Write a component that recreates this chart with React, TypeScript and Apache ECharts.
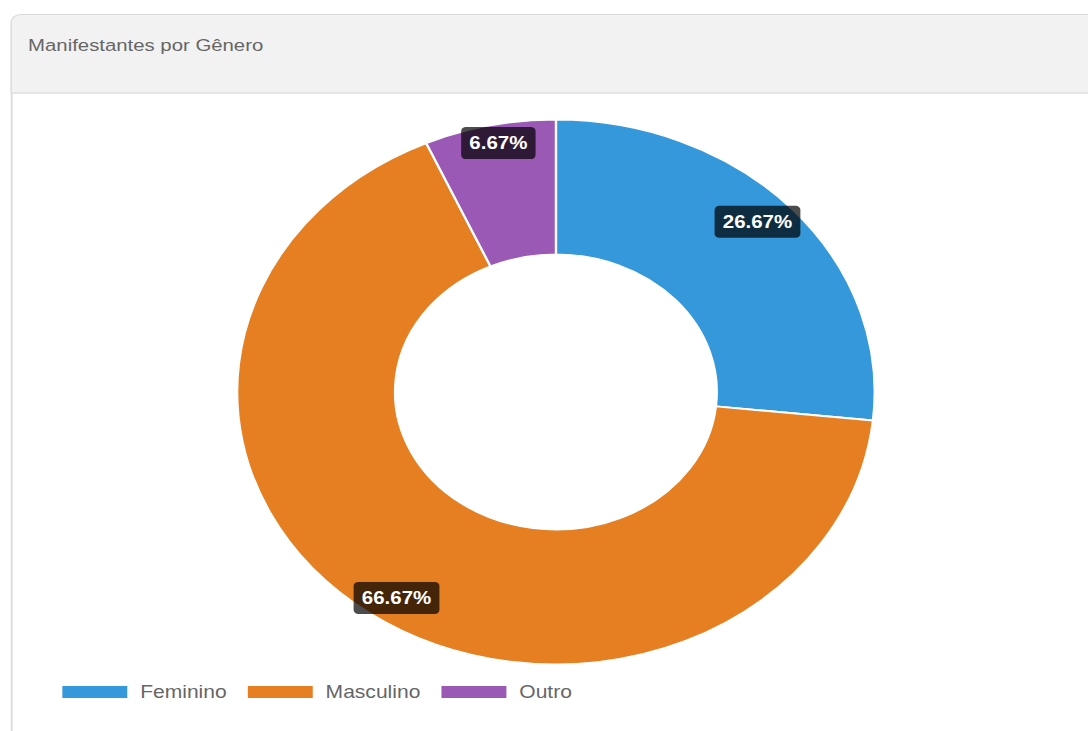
import React, { useEffect, useRef } from "react";
import * as echarts from "echarts";

const titleText = "Manifestantes por Gênero";
const categories = ["Feminino", "Masculino", "Outro"];
const values = [4, 10, 1];
const colors = ["#3498db", "#e67e22", "#9b59b6"];

const BASE_W = 930;
const H = 731;
const SX = 1088 / BASE_W;
const CX = 475.2;
const CY = 392;
const R_IN = 137.5;
const R_OUT = 272.5;

export default function App() {
  const ref = useRef<HTMLDivElement>(null);
  useEffect(() => {
    if (!ref.current) return;
    const chart = echarts.init(ref.current, null, { renderer: "svg" });
    const total = values.reduce((a, b) => a + b, 0);
    const data = categories.map((name, i) => ({
      name,
      value: values[i],
      itemStyle: { color: colors[i] },
    }));
    const font = "'Liberation Sans', Arial, Helvetica, sans-serif";
    chart.setOption({
      animation: false,
      title: {
        text: titleText,
        left: 24,
        top: 36.5,
        padding: 0,
        textStyle: { fontFamily: font, fontSize: 17.4, fontWeight: "normal", color: "#666" },
      },
      graphic: [
        {
          type: "rect",
          z: -10,
          shape: { x: 9.5, y: 14.5, width: 1000, height: 78.5, r: [8, 0, 0, 0] },
          style: { fill: "#f2f2f2", stroke: "#d9d9d9", lineWidth: 1.2 },
          silent: true,
        },
        {
          type: "line",
          z: -9,
          shape: { x1: 9.5, y1: 93, x2: 1000, y2: 93 },
          style: { stroke: "#e2e2e2", lineWidth: 1.2 },
          silent: true,
        },
        {
          type: "line",
          z: -9,
          shape: { x1: 10, y1: 93, x2: 10, y2: 740 },
          style: { stroke: "#dddddd", lineWidth: 1.6 },
          silent: true,
        },
      ],
      legend: {
        left: 51.3,
        top: 683,
        padding: 0,
        icon: "rect",
        itemWidth: 57.5,
        itemHeight: 14,
        itemGap: 16,
        selectedMode: false,
        textStyle: { fontFamily: font, fontSize: 18, color: "#666", padding: [0, 0, 0, 5] },
        data: categories.map((name, i) => ({ name, itemStyle: { color: colors[i] } })),
      },
      series: [
        {
          type: "pie",
          center: [CX, CY],
          radius: [R_IN, R_OUT],
          startAngle: 90,
          clockwise: true,
          avoidLabelOverlap: false,
          emphasis: { disabled: true },
          itemStyle: { borderColor: "#fff", borderWidth: 2 },
          labelLine: { show: false },
          label: {
            show: true,
            position: "inside",
            formatter: (p: any) => ((p.value / total) * 100).toFixed(2) + "%",
            color: "#fff",
            fontFamily: font,
            fontWeight: "bold",
            fontSize: 17.5,
            backgroundColor: "rgba(0,0,0,0.7)",
            borderRadius: 4,
            padding: [7, 7, 7, 7],
          },
          labelLayout: (p: any) => {
            const r = p.labelRect;
            const lx = r.x + r.width / 2;
            const ly = r.y + r.height / 2;
            const ang = Math.atan2(ly - CY, lx - CX);
            const c = Math.cos(ang);
            const s = Math.sin(ang);
            return {
              x: CX + R_OUT * c - c * (r.width / 2 + 4),
              y: CY + R_OUT * s - s * (r.height / 2 + 2),
            };
          },
          data,
        },
      ],
    });
    return () => chart.dispose();
  }, []);
  return (
    <div
      style={{
        position: "fixed",
        left: 0,
        top: 0,
        width: BASE_W,
        height: H,
        overflow: "hidden",
        background: "#fff",
        transform: `scaleX(${SX})`,
        transformOrigin: "0 0",
      }}
    >
      <div ref={ref} style={{ width: BASE_W, height: H }} />
    </div>
  );
}
